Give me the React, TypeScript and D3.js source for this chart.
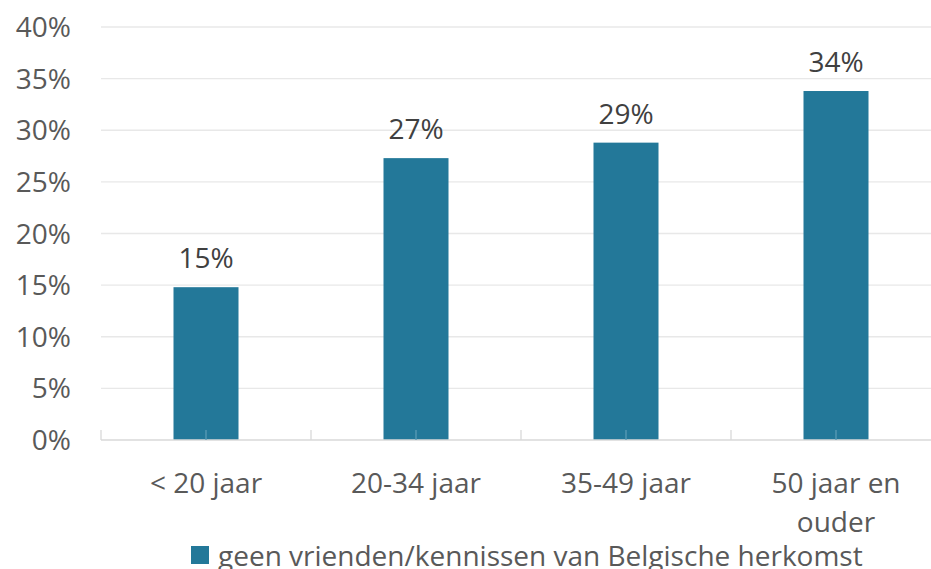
import React from "react";
import * as d3 from "d3";

const categories: string[][] = [["< 20 jaar"], ["20-34 jaar"], ["35-49 jaar"], ["50 jaar en", "ouder"]];
const values: number[] = [14.8, 27.3, 28.8, 33.8];
const labels: string[] = ["15%", "27%", "29%", "34%"];
const yTicks: number[] = [0, 5, 10, 15, 20, 25, 30, 35, 40];
const legendLabel = "geen vrienden/kennissen van Belgische herkomst";

const W = 931;
const H = 569;
const FONT = "'Open Sans', sans-serif";

export default function App() {
  const x = d3.scaleBand<number>().domain(d3.range(categories.length)).range([101, 941]).paddingInner(0).paddingOuter(0);
  const y = d3.scaleLinear().domain([0, 40]).range([440, 27]);
  const bw = x.bandwidth();
  const barW = 65;
  const tickXs: number[] = [];
  for (let i = 0; i <= categories.length * 2; i++) tickXs.push(101 + (bw / 2) * i);

  return (
    <svg width={W} height={H} style={{ position: "absolute", left: 0, top: 0, background: "#fff" }} fontFamily={FONT}>
      {yTicks.map((t) => (
        <g key={t}>
          {t > 0 && <line x1={101} x2={W} y1={y(t)} y2={y(t)} stroke="#e8e8e8" strokeWidth={1.3} />}
          <text x={71} y={y(t) + 10} textAnchor="end" fontSize={28} fill="#595959">
            {t}%
          </text>
        </g>
      ))}
      {values.map((v, i) => {
        const cx = (x(i) as number) + bw / 2;
        return (
          <g key={i}>
            <rect x={cx - barW / 2} y={y(v)} width={barW} height={y(0) - y(v)} fill="#237899" />
            <text x={cx} y={y(v) - 19} textAnchor="middle" fontSize={28} fill="#404040">
              {labels[i]}
            </text>
          </g>
        );
      })}
      <line x1={101} x2={W} y1={440} y2={440} stroke="#d9d9d9" strokeWidth={1.5} />
      {tickXs.map((tx, i) => (
        <line key={i} x1={tx} x2={tx} y1={430} y2={440} stroke={i % 2 === 1 ? "#5a9bb5" : "#d9d9d9"} strokeWidth={1.3} />
      ))}
      {categories.map((lines, i) => {
        const cx = (x(i) as number) + bw / 2;
        return (
          <text key={i} x={cx} y={493} textAnchor="middle" fontSize={28} fill="#595959">
            {lines.map((l, j) => (
              <tspan key={j} x={cx} dy={j === 0 ? 0 : 39}>
                {l}
              </tspan>
            ))}
          </text>
        );
      })}
      <rect x={191} y={546} width={18} height={18} fill="#237899" />
      <text x={218} y={566} fontSize={28} fill="#595959">
        {legendLabel}
      </text>
    </svg>
  );
}
